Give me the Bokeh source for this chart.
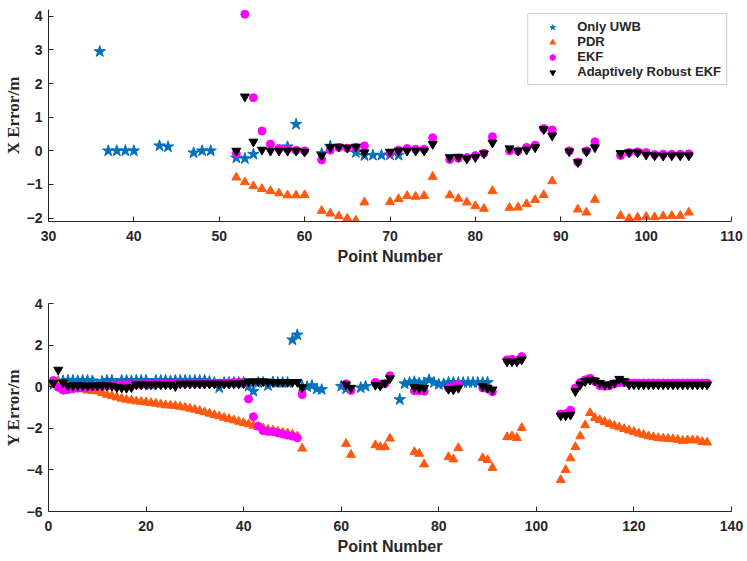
from bokeh.plotting import figure
from bokeh.layouts import column
from bokeh.models import Range1d, FixedTicker, Legend, LegendItem
from bokeh.embed import file_html
from bokeh.resources import INLINE

# ---- top panel: X error ----
top_uwb_pt = [36, 37, 38, 39, 40, 43, 44, 47, 48, 49, 52, 53, 54, 58, 59, 62, 63,
              66, 67, 68, 69, 70, 71]
top_uwb = [2.95, 0.0, 0.0, 0.0, 0.0, 0.15, 0.12, -0.06, 0.0, 0.0, -0.21, -0.23, -0.1,
           0.12, 0.79, -0.08, 0.14, -0.05, -0.14, -0.13, -0.13, -0.12, -0.13]

top_pdr_pt = [52, 53, 54, 55, 56, 57, 58, 59, 60, 62, 63, 64, 65, 66, 67,
              70, 71, 72, 73, 74, 75, 77, 78, 79, 80, 81, 82, 84, 85, 86, 87, 88, 89,
              92, 93, 94, 97, 98, 99, 100, 101, 102, 103, 104, 105]
top_pdr = [-0.79, -0.93, -1.05, -1.13, -1.19, -1.26, -1.32, -1.32, -1.31,
           -1.78, -1.86, -1.94, -2.01, -2.07, -1.53,
           -1.52, -1.43, -1.34, -1.36, -1.34, -0.77,
           -1.32, -1.42, -1.53, -1.64, -1.72, -1.19,
           -1.69, -1.68, -1.58, -1.46, -1.31, -0.9,
           -1.74, -1.83, -1.45,
           -1.93, -2.01, -1.98, -1.96, -1.97, -1.94, -1.93, -1.93, -1.83]

top_kf_pt = [52, 53, 54, 55, 56, 57, 58, 59, 60, 62, 63, 64, 65, 66, 67,
             70, 71, 72, 73, 74, 75, 77, 78, 79, 80, 81, 82, 84, 85, 86, 87, 88, 89,
             91, 92, 93, 94, 97, 98, 99, 100, 101, 102, 103, 104, 105]
top_ekf = [-0.08, 4.06, 1.58, 0.59, 0.2, 0.07, 0.05, 0.02, 0.0,
           -0.27, 0.02, 0.1, 0.08, 0.1, 0.15,
           -0.08, 0.02, 0.07, 0.05, 0.05, 0.39,
           -0.26, -0.22, -0.2, -0.14, -0.07, 0.42,
           0.0, 0.0, 0.1, 0.17, 0.66, 0.62,
           0.0, -0.33, 0.0, 0.27,
           -0.14, -0.05, -0.03, -0.05, -0.11, -0.1, -0.1, -0.1, -0.09]
top_are = [0.0, 1.61, 0.27, 0.03, 0.0, 0.0, 0.0, 0.0, -0.03,
           -0.14, 0.1, 0.12, 0.09, 0.12, -0.05,
           -0.03, 0.0, 0.0, 0.0, 0.0, 0.2,
           -0.19, -0.18, -0.23, -0.19, -0.08, 0.24,
           0.07, 0.0, 0.03, 0.1, 0.64, 0.45,
           -0.02, -0.34, -0.02, 0.1,
           -0.07, -0.05, -0.05, -0.12, -0.14, -0.15, -0.14, -0.14, -0.14]

# ---- bottom panel: Y error ----
bot_uwb_pt = list(range(1, 57)) + [60, 61, 64, 65] + list(range(72, 91))
bot_uwb = [0.1, 0.25, 0.28, 0.3, 0.3, 0.28, 0.3, 0.3, 0.28, 0.1,
           0.25, 0.3, 0.3, 0.12, 0.3, 0.3, 0.28, 0.3, 0.3, 0.3,
           0.1, 0.3, 0.3, 0.3, 0.28, 0.3, 0.3, 0.3, 0.28, 0.3,
           0.3, 0.3, 0.25, 0.2, -0.05, 0.2, 0.2, 0.2, 0.2, 0.2,
           0.02, -0.22, 0.2, 0.2, 0.05, 0.22, 0.2, 0.2, 0.2, 2.25,
           2.49, 0.02, 0.0, 0.05, -0.11, -0.14,
           0.02, -0.1, -0.05, 0.02,
           -0.62, 0.14, 0.2, 0.24, 0.18, 0.18, 0.33, 0.2, 0.11, 0.14,
           0.2, 0.2, 0.2, 0.2, 0.2, 0.2, 0.2, 0.2, 0.2]

bot_pt = (list(range(1, 53)) + [61, 62, 67, 68, 69, 70, 75, 76, 77, 82, 83, 84,
          89, 90, 91, 94, 95, 96, 97] + list(range(105, 136)))
bot_pdr = [0.18, 0.25, 0.0, -0.02, -0.05, -0.08, -0.12, -0.18, -0.2, -0.22,
           -0.3, -0.38, -0.45, -0.51, -0.57, -0.62, -0.66, -0.7, -0.72, -0.75,
           -0.78, -0.81, -0.85, -0.89, -0.9, -0.92, -0.96, -1.0, -1.05, -1.1,
           -1.16, -1.22, -1.29, -1.36, -1.42, -1.49, -1.55, -1.61, -1.68, -1.74,
           -1.8, -1.87, -1.93, -2.0, -2.06, -2.1, -2.15, -2.2, -2.24, -2.3,
           -2.38, -2.97,
           -2.74, -3.27, -2.81, -2.9, -2.9, -2.49, -3.14, -3.22, -3.73,
           -3.38, -3.49, -2.95, -3.43, -3.52, -3.9, -2.42, -2.38, -2.46, -1.98,
           -4.48, -4.0, -3.44, -2.89, -2.38, -1.85, -1.26, -1.5, -1.6, -1.69,
           -1.79, -1.87, -1.95, -2.03, -2.1, -2.17, -2.25, -2.31, -2.38, -2.42,
           -2.46, -2.49, -2.5, -2.52, -2.55, -2.6, -2.57, -2.57, -2.58, -2.65,
           -2.68]
bot_ekf = [0.3, -0.03, -0.17, -0.14, -0.1, -0.07, -0.05, -0.03, 0.0, 0.02,
           0.03, 0.05, 0.05, 0.06, 0.08, 0.1, 0.1, 0.1, 0.1, 0.12,
           0.12, 0.13, 0.13, 0.14, 0.14, 0.15, 0.15, 0.15, 0.16, 0.16,
           0.17, 0.17, 0.17, 0.18, 0.18, 0.18, 0.18, 0.2, 0.2, 0.2,
           -0.59, -1.44, -1.9, -2.12, -2.15, -2.16, -2.22, -2.28, -2.33, -2.38,
           -2.46, -0.38,
           0.14, -0.18, 0.2, 0.1, 0.15, 0.53, -0.19, -0.19, -0.22,
           -0.06, 0.0, 0.11, -0.06, -0.1, -0.24, 1.29, 1.32, 1.25, 1.45,
           -1.31, -1.3, -1.13, -0.06, 0.2, 0.33, 0.41, 0.26, 0.05, 0.02,
           0.05, 0.14, 0.2, 0.2, 0.18, 0.18, 0.18, 0.18, 0.18, 0.18,
           0.18, 0.18, 0.18, 0.18, 0.18, 0.18, 0.18, 0.18, 0.18, 0.18,
           0.18]
bot_are = [0.18, 0.81, 0.2, 0.05, 0.05, 0.06, 0.05, 0.04, 0.05, 0.05,
           0.06, 0.05, 0.04, -0.03, -0.05, -0.06, -0.03, 0.1, 0.1, 0.1,
           0.1, 0.11, 0.1, 0.1, 0.1, 0.02, 0.14, 0.14, 0.14, 0.14,
           0.14, 0.14, 0.14, 0.14, 0.14, 0.14, 0.14, 0.15, 0.15, 0.16,
           0.25, 0.25, 0.25, 0.25, 0.24, 0.22, 0.22, 0.22, 0.22, 0.22,
           0.22, -0.03,
           0.1, -0.06, 0.08, 0.05, 0.18, 0.4, -0.03, -0.06, -0.06,
           -0.11, -0.14, -0.06, 0.02, -0.06, -0.14, 1.21, 1.21, 1.21, 1.3,
           -1.39, -1.39, -1.35, -0.22, 0.1, 0.26, 0.33, 0.29, 0.18, 0.1,
           0.1, 0.18, 0.37, 0.26, 0.1, 0.1, 0.1, 0.1, 0.1, 0.1,
           0.1, 0.1, 0.1, 0.1, 0.1, 0.1, 0.1, 0.1, 0.1, 0.1,
           0.1]

top_xticks = [30, 40, 50, 60, 70, 80, 90, 100, 110]
top_yticks = [-2, -1, 0, 1, 2, 3, 4]
bot_xticks = [0, 20, 40, 60, 80, 100, 120, 140]
bot_yticks = [-6, -4, -2, 0, 2, 4]

C_UWB = "#0072BD"
C_PDR = "#FF5A0F"
C_EKF = "#FF00FF"
C_ARE = "#000000"
TXT = "#262626"


def make_panel(frame_h, top, xr, yr, xticks, yticks, ylabel):
    p = figure(frame_width=683, frame_height=frame_h,
               x_range=Range1d(*xr), y_range=Range1d(*yr),
               output_backend="svg", toolbar_location=None,
               min_border_left=46, min_border_right=14,
               min_border_top=top, min_border_bottom=49)
    p.grid.visible = False
    p.outline_line_color = None
    p.xaxis.ticker = FixedTicker(ticks=xticks)
    p.yaxis.ticker = FixedTicker(ticks=yticks)
    for ax in p.axis:
        ax.axis_line_color = TXT
        ax.major_tick_line_color = TXT
        ax.major_tick_in = 5
        ax.major_tick_out = 0
        ax.minor_tick_in = 0
        ax.minor_tick_out = 0
        ax.major_label_text_font = "Liberation Sans"
        ax.major_label_text_font_style = "bold"
        ax.major_label_text_font_size = "14px"
        ax.major_label_text_color = TXT
    p.xaxis.major_label_standoff = 9
    p.yaxis.major_label_standoff = 6
    p.xaxis.axis_label = "Point Number"
    p.xaxis.axis_label_text_font = "Liberation Sans"
    p.xaxis.axis_label_text_font_style = "bold"
    p.xaxis.axis_label_text_font_size = "16px"
    p.xaxis.axis_label_text_color = TXT
    p.xaxis.axis_label_standoff = 4
    p.yaxis.axis_label = ylabel
    p.yaxis.axis_label_text_font = "Liberation Serif"
    p.yaxis.axis_label_text_font_style = "bold"
    p.yaxis.axis_label_text_font_size = "17px"
    p.yaxis.axis_label_text_color = TXT
    p.yaxis.axis_label_standoff = 1
    return p


def add_series(p, uwb_x, uwb_y, pdr_x, pdr_y, ekf_x, ekf_y, are_x, are_y):
    r1 = p.scatter(uwb_x, uwb_y, marker="star", size=12, color=C_UWB)
    r2 = p.scatter(pdr_x, pdr_y, marker="triangle", size=9, color=C_PDR)
    r3 = p.scatter(ekf_x, ekf_y, marker="circle", size=8, color=C_EKF)
    r4 = p.scatter(are_x, are_y, marker="inverted_triangle", size=9, color=C_ARE)
    return r1, r2, r3, r4


p1 = make_panel(212, 9, (30, 110), (-2.1, 4.2), top_xticks, top_yticks, "X Error/m")
rs = add_series(p1, top_uwb_pt, top_uwb, top_pdr_pt, top_pdr,
                top_kf_pt, top_ekf, top_kf_pt, top_are)

legend = Legend(items=[LegendItem(label="Only UWB", renderers=[rs[0]]),
                       LegendItem(label="PDR", renderers=[rs[1]]),
                       LegendItem(label="EKF", renderers=[rs[2]]),
                       LegendItem(label="Adaptively Robust EKF", renderers=[rs[3]])],
                location="top_right")
legend.border_line_color = "#9a9a9a"
legend.border_line_width = 1
legend.background_fill_color = "white"
legend.label_text_font = "Liberation Sans"
legend.label_text_font_style = "bold"
legend.label_text_font_size = "13px"
legend.label_text_color = TXT
legend.label_height = 14
legend.glyph_height = 14
legend.glyph_width = 38
legend.label_standoff = 6
legend.spacing = 0
legend.padding = 5
legend.margin = 4
p1.add_layout(legend)

p2 = make_panel(208, 33, (0, 140), (-6, 4), bot_xticks, bot_yticks, "Y Error/m")
add_series(p2, bot_uwb_pt, bot_uwb, bot_pt, bot_pdr, bot_pt, bot_ekf, bot_pt, bot_are)

layout = column(p1, p2, spacing=0)
open("out.html", "w").write(file_html(layout, INLINE))
